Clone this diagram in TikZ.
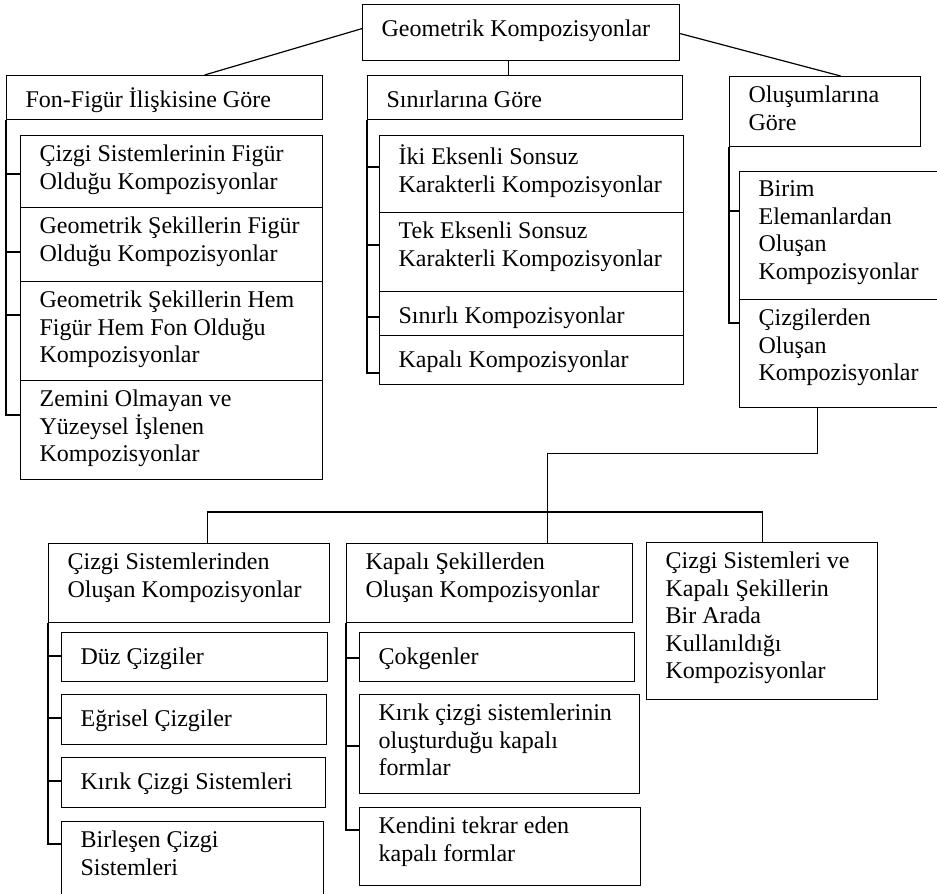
\documentclass[tikz,border=0pt]{standalone}
\usepackage{fontspec}
\setmainfont{Liberation Serif}
\usepackage{tikz}

\begin{document}
\begin{tikzpicture}[x=0.5pt, y=-0.5pt, line width=0.6pt,
  kutu/.style 2 args={draw, anchor=north west, inner sep=0pt, minimum width=#1*0.5pt, minimum height=#2*0.5pt},
  yazi/.style={anchor=north west, inner sep=0pt, align=left, shift={(19,9.5)},
    font=\fontsize{12}{13.75}\selectfont, execute at begin node={\rule{0pt}{11pt}}}]

\useasboundingbox (0,0) rectangle (937,894);
\clip (0,0) rectangle (937,894);

% Top box
\node[kutu={317}{56}] (gk) at (362,4) {};
\node[yazi] (gk-yazi) at (gk.north west) {Geometrik Kompozisyonlar};

% Main groups
\node[kutu={316}{44}] (fon) at (6,75) {};
\node[yazi] (fon-yazi) at (fon.north west) {Fon-Figür İlişkisine Göre};
\node[kutu={315}{44}] (sinir) at (367,75) {};
\node[yazi] (sinir-yazi) at (sinir.north west) {Sınırlarına Göre};
\node[kutu={191}{70}] (olus) at (729,76) {};
\node[yazi] (olus-yazi) at (olus.north west) {Oluşumlarına\\Göre};

% Connectors from the top box
\draw ([shift={(0,-4)}]gk.west) -- ([shift={(40,0)}]fon.north);
\draw ([shift={(0,1)}]gk.east) -- ([shift={(15.5,0)}]olus.north);
\draw ([shift={(-12.5,0)}]gk.south) -- ([shift={(-12.5,0)}]gk.south |- sinir.north);

% Fon-Figur children
\foreach \n/\y/\h/\tk/\yaz in {f1/135/72/39/{Çizgi Sistemlerinin Figür\\Olduğu Kompozisyonlar},
  f2/207/74/45/{Geometrik Şekillerin Figür\\Olduğu Kompozisyonlar},
  f3/281/99/34/{Geometrik Şekillerin Hem\\Figür Hem Fon Olduğu\\Kompozisyonlar},
  f4/380/99/35/{Zemini Olmayan ve\\Yüzeysel İşlenen\\Kompozisyonlar}}
{
  \node[kutu={302}{\h}] (\n) at (20,\y) {};
  \node[yazi] (\n-yazi) at (\n.north west) {\yaz};
  \draw ([shift={(0,\tk)}]\n.north west) -| (fon.south west);
}

% Sinirlarina children
\foreach \n/\y/\h/\tk/\yaz in {s1/135/77/32/{İki Eksenli Sonsuz\\Karakterli Kompozisyonlar},
  s2/212/79/33/{Tek Eksenli Sonsuz\\Karakterli Kompozisyonlar},
  s3/291/44/26/{Sınırlı Kompozisyonlar},
  s4/335/49/38/{Kapalı Kompozisyonlar}}
{
  \node[kutu={304}{\h}] (\n) at (379,\y) {};
  \node[yazi] (\n-yazi) at (\n.north west) {\yaz};
  \draw ([shift={(0,\tk)}]\n.north west) -| (sinir.south west);
}

% Olusumlarina children
\foreach \n/\y/\h/\tk/\yaz in {o1/171/128/40/{Birim\\Elemanlardan\\Oluşan\\Kompozisyonlar},
  o2/299/108/24/{Çizgilerden\\Oluşan\\Kompozisyonlar}}
{
  \node[kutu={210}{\h}] (\n) at (739,\y) {};
  \node[yazi] (\n-yazi) at (\n.north west) {\yaz};
  \draw ([shift={(0,\tk)}]\n.north west) -| (olus.south west);
}

% Lower groups
\node[kutu={281}{79}] (cz) at (48,543) {};
\node[yazi] (cz-yazi) at (cz.north west) {Çizgi Sistemlerinden\\Oluşan Kompozisyonlar};
\node[kutu={286}{79}] (kp) at (346,543) {};
\node[yazi] (kp-yazi) at (kp.north west) {Kapalı Şekillerden\\Oluşan Kompozisyonlar};
\node[kutu={231}{157}] (ba) at (646,542) {};
\node[yazi] (ba-yazi) at (ba.north west) {Çizgi Sistemleri ve\\Kapalı Şekillerin\\Bir Arada\\Kullanıldığı\\Kompozisyonlar};

% Connectors to the lower groups
\draw ([shift={(-27,0)}]o2.south) -- ++(0,45) -| ([shift={(58,0)}]kp.north);
\draw ([shift={(18.5,0)}]cz.north) -- ++(0,-31) -| (ba.north);

% Cizgi Sistemlerinden children
\foreach \n/\y/\h/\w/\tk/\yaz in {c1/632/49/266/24/{Düz Çizgiler},
  c2/694/50/265/24/{Eğrisel Çizgiler},
  c3/757/50/264/24/{Kırık Çizgi Sistemleri},
  c4/821/80/262/23/{Birleşen Çizgi\\Sistemleri}}
{
  \node[kutu={\w}{\h}] (\n) at (61,\y) {};
  \node[yazi] (\n-yazi) at (\n.north west) {\yaz};
  \draw ([shift={(0,\tk)}]\n.north west) -| (cz.south west);
}

% Kapali Sekillerden children
\foreach \n/\y/\h/\w/\tk/\yaz in {k1/632/49/275/26/{Çokgenler},
  k2/694/99/280/52/{Kırık çizgi sistemlerinin\\oluşturduğu kapalı\\formlar},
  k3/807/78/281/23/{Kendini tekrar eden\\kapalı formlar}}
{
  \node[kutu={\w}{\h}] (\n) at (359,\y) {};
  \node[yazi] (\n-yazi) at (\n.north west) {\yaz};
  \draw ([shift={(0,\tk)}]\n.north west) -| (kp.south west);
}

\end{tikzpicture}
\end{document}
